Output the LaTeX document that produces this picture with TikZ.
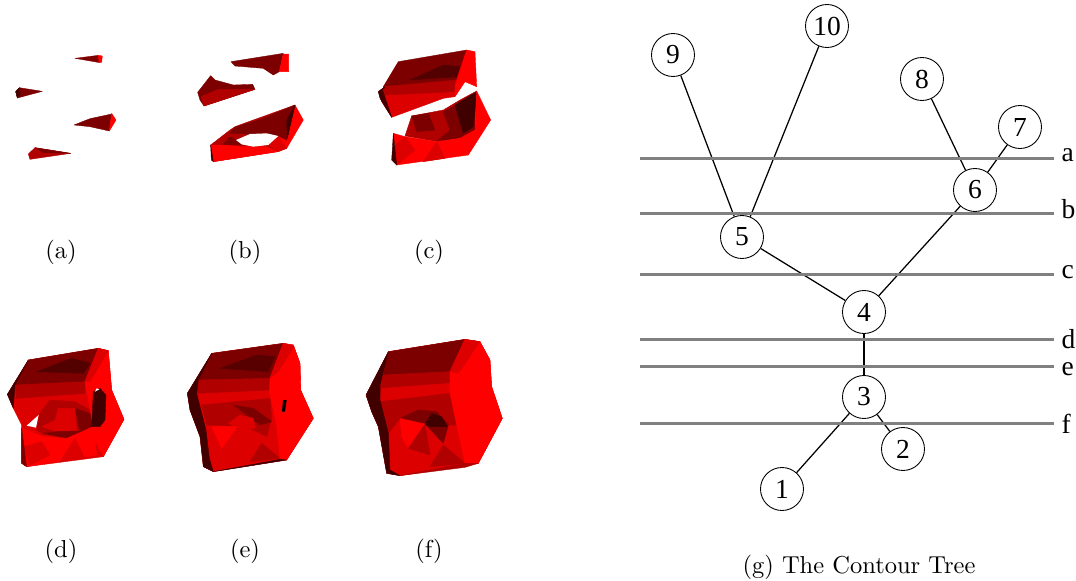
\documentclass[tikz,border=0pt]{standalone}
\usepackage{fontspec}
\newfontfamily\treefont{Liberation Serif}
\usetikzlibrary{positioning}
\definecolor{rdA}{HTML}{FF0000}
\definecolor{rdB}{HTML}{DC0000}
\definecolor{rdC}{HTML}{B00000}
\definecolor{rdD}{HTML}{7C0000}
\definecolor{rdE}{HTML}{400000}
\definecolor{levc}{HTML}{808080}
\begin{document}
\begin{tikzpicture}[x=0.4pt, y=-0.4pt,
          tn/.style={circle, draw=black, fill=white, line width=0.35pt, minimum size=17.2pt, inner sep=0pt, font=\treefont\fontsize{11}{12}\selectfont},
          ed/.style={line width=0.5pt, black},
          lev/.style={line width=1pt, levc},
          lab/.style={anchor=base west, inner sep=0pt, font=\treefont\fontsize{11}{12}\selectfont},
          capt/.style={inner sep=0pt, font=\fontsize{9.8}{12}\selectfont},
          fc/.style={fill=#1, draw=#1, line width=0.15pt, line join=round}]
        \useasboundingbox (0,0) rectangle (1076,581);
        % panels a and b
        \begin{scope}[shift={(0,30)}, scale=1/3]
          \fill[fc=rdD] (225,85) -- (295,76) -- (300,98) -- cycle;
          \fill[fc=rdA] (295,76) -- (307,78) -- (305,97) -- (297,98) -- cycle;
          \fill[fc=rdD] (47,185) -- (58,173) -- (127,184) -- (52,204) -- cycle;
          \fill[fc=rdE] (47,185) -- (58,173) -- (60,195) -- (52,204) -- cycle;
          \fill[fc=rdD] (222,285) -- (270,266) -- (335,252) -- (328,303) -- (270,290) -- cycle;
          \fill[fc=rdA] (335,250) -- (348,270) -- (328,303) -- cycle;
          \fill[fc=rdC] (85,372) -- (105,353) -- (212,370) -- (90,388) -- cycle;
          \fill[fc=rdD] (105,353) -- (212,370) -- (130,368) -- cycle;
          % b
          \fill[fc=rdD] (693,95) -- (850,70) -- (838,125) -- (820,135) -- (790,115) -- (705,108) -- cycle;
          \fill[fc=rdA] (850,72) -- (866,72) -- (866,125) -- (838,125) -- cycle;
          \fill[fc=rdD] (593,187) -- (632,137) -- (645,150) -- (700,165) -- (758,163) -- (765,178) -- (612,228) -- (600,210) -- cycle;
          \fill[fc=rdC] (603,200) -- (655,178) -- (765,178) -- (612,228) -- cycle;
          \fill[fc=rdC] (632,345) -- (690,300) -- (705,290) -- (760,270) -- (885,225) -- (860,355) -- (830,365) -- (640,395) -- cycle;
          \fill[fc=rdA] (885,225) -- (910,270) -- (860,355) -- (835,320) -- cycle;
          \fill[fc=rdD] (705,292) -- (790,265) -- (780,310) -- (750,312) -- (690,310) -- cycle;
          \fill[fc=rdD] (790,265) -- (885,225) -- (860,330) -- (835,318) -- (780,310) -- cycle;
          \fill[fc=rdE] (885,225) -- (862,325) -- (860,270) -- cycle;
          \fill[fc=rdD] (668,345) -- (690,320) -- (708,330) -- (725,343) -- cycle;
          \fill[fc=rdA] (632,345) -- (668,345) -- (725,350) -- (800,350) -- (835,365) -- (640,395) -- cycle;
          \fill[fc=rdB] (805,345) -- (835,320) -- (860,355) -- (835,365) -- cycle;
          \fill[fc=rdE] (632,345) -- (640,395) -- (634,390) -- cycle;
          \fill[white] (708,330) -- (750,312) -- (800,310) -- (835,318) -- (805,345) -- (760,350) -- (725,343) -- cycle;
        \end{scope}
        % panel c
        \begin{scope}[shift={(360,30)}, scale=1/3]
          \fill[fc=rdD] (115,95) -- (320,60) -- (290,170) -- (70,170) -- cycle;
          \fill[fc=rdE!70!rdD] (150,150) -- (250,105) -- (300,110) -- (290,140) -- cycle;
          \fill[fc=rdB] (55,185) -- (75,170) -- (285,170) -- (285,200) -- (250,205) -- (95,262) -- (65,215) -- cycle;
          \fill[fc=rdC] (70,170) -- (290,150) -- (285,185) -- (75,195) -- cycle;
          \fill[fc=rdE] (55,185) -- (75,170) -- (68,180) -- (95,262) -- (60,205) -- cycle;
          \fill[fc=rdA] (320,60) -- (345,65) -- (350,170) -- (315,155) -- (285,200) -- (285,165) -- cycle;
          \fill[fc=rdC] (135,318) -- (155,258) -- (250,240) -- (300,210) -- (350,183) -- (345,300) -- (300,325) -- (230,335) -- cycle;
          \fill[fc=rdD] (155,258) -- (205,250) -- (225,300) -- (170,305) -- cycle;
          \fill[fc=rdD] (250,245) -- (310,215) -- (345,190) -- (345,300) -- (305,322) -- (230,335) -- (270,300) -- cycle;
          \fill[fc=rdE] (285,225) -- (350,185) -- (340,290) -- (310,310) -- cycle;
          \fill[fc=rdA] (350,183) -- (392,270) -- (325,375) -- (300,325) -- (345,300) -- cycle;
          \fill[fc=rdA] (100,310) -- (135,320) -- (230,335) -- (300,325) -- (325,375) -- (110,405) -- cycle;
          \fill[fc=rdB] (135,320) -- (165,360) -- (110,405) -- (100,350) -- cycle;
          \fill[fc=rdB] (230,335) -- (255,385) -- (190,395) -- cycle;
          \fill[fc=rdE] (100,310) -- (110,405) -- (95,390) -- cycle;
        \end{scope}
        % panel d
        \begin{scope}[shift={(0,330)}, scale=1/3]
          \fill[fc=rdB] (22,193) -- (85,90) -- (295,55) -- (325,62) -- (335,180) -- (372,268) -- (310,380) -- (80,410) -- (65,400) -- (65,285) -- (40,235) -- cycle;
          \fill[fc=rdD] (85,90) -- (295,55) -- (255,155) -- (45,165) -- cycle;
          \fill[fc=rdE!70!rdD] (110,125) -- (215,85) -- (270,100) -- (250,130) -- cycle;
          \fill[fc=rdC] (45,165) -- (255,155) -- (255,190) -- (50,205) -- cycle;
          \fill[fc=rdC] (110,300) -- (118,252) -- (150,210) -- (225,215) -- (270,240) -- (280,290) -- (200,325) -- (130,312) -- cycle;
          \fill[fc=rdB] (125,290) -- (165,270) -- (175,235) -- (225,235) -- (230,300) -- (170,305) -- cycle;
          \fill[fc=rdD] (225,235) -- (270,250) -- (278,285) -- (240,305) -- cycle;
          \fill[fc=rdD] (130,310) -- (170,305) -- (235,305) -- (275,288) -- (205,325) -- cycle;
          \fill[fc=rdE] (22,193) -- (85,90) -- (45,165) -- (40,235) -- cycle;
          \fill[fc=rdA] (295,55) -- (325,62) -- (335,180) -- (372,268) -- (310,380) -- (285,330) -- (280,290) -- (255,155) -- cycle;
          \fill[fc=rdB] (295,55) -- (325,62) -- (270,155) -- (255,155) -- cycle;
          \fill[fc=rdA] (65,295) -- (130,320) -- (200,325) -- (280,290) -- (290,375) -- (80,410) -- cycle;
          \fill[fc=rdB] (125,335) -- (150,375) -- (90,405) -- (70,350) -- cycle;
          \fill[fc=rdB] (225,325) -- (255,385) -- (180,395) -- cycle;
          \fill[fc=rdD] (65,295) -- (80,410) -- (65,400) -- cycle;
          \fill[fc=rdE] (280,185) -- (300,175) -- (318,195) -- (315,270) -- (300,290) -- (275,290) -- cycle;
          \fill[white] (80,287) -- (116,255) -- (108,293) -- cycle;
          \fill[white] (285,185) -- (290,175) -- (298,178) -- cycle;
        \end{scope}
        % panel e
        \begin{scope}[shift={(170,330)}, scale=1/3]
          \fill[fc=rdB] (52,190) -- (125,70) -- (340,40) -- (370,45) -- (390,100) -- (392,180) -- (430,265) -- (350,390) -- (130,425) -- (100,410) -- (90,320) -- (60,240) -- cycle;
          \fill[fc=rdD] (125,70) -- (340,40) -- (300,145) -- (85,150) -- cycle;
          \fill[fc=rdE!60!rdD] (150,115) -- (260,75) -- (315,80) -- (295,125) -- cycle;
          \fill[fc=rdC] (85,150) -- (300,145) -- (300,180) -- (80,190) -- cycle;
          \fill[fc=rdC] (95,225) -- (300,205) -- (305,265) -- (290,320) -- (230,290) -- (110,285) -- cycle;
          \fill[fc=rdD] (190,225) -- (250,235) -- (305,275) -- (270,285) -- cycle;
          \fill[fc=rdA] (125,290) -- (175,290) -- (205,285) -- (155,355) -- cycle;
          \fill[fc=rdB] (175,280) -- (210,255) -- (250,265) -- (255,295) -- (210,295) -- cycle;
          \fill[fc=rdC] (275,340) -- (330,385) -- (240,395) -- cycle;
          \fill[fc=rdE] (52,190) -- (125,70) -- (85,150) -- (80,190) -- (108,300) -- (118,385) -- (130,425) -- (100,410) -- (90,320) -- (60,240) -- cycle;
          \fill[fc=rdA] (340,40) -- (370,45) -- (390,100) -- (392,180) -- (430,265) -- (350,390) -- (330,385) -- (320,285) -- (298,185) -- (300,145) -- cycle;
          \fill[fc=rdB] (340,40) -- (372,50) -- (325,125) -- (300,145) -- cycle;
          \fill[fc=rdE] (130,425) -- (330,388) -- (350,390) -- (130,425) -- cycle;
          \fill[black] (339,210) -- (350,210) -- (345,245) -- (336,245) -- cycle;
        \end{scope}
        % panel f
        \begin{scope}[shift={(350,330)}, scale=1/3]
          \fill[fc=rdB] (48,195) -- (115,65) -- (345,28) -- (390,35) -- (420,90) -- (425,170) -- (457,265) -- (385,400) -- (150,437) -- (110,430) -- (85,290) -- (65,245) -- cycle;
          \fill[fc=rdD] (115,65) -- (345,28) -- (300,125) -- (100,135) -- cycle;
          \fill[fc=rdC] (100,135) -- (300,125) -- (300,190) -- (90,215) -- (90,165) -- cycle;
          \fill[fc=rdB] (95,175) -- (300,160) -- (300,190) -- (90,215) -- cycle;
          \fill[fc=rdC] (90,215) -- (300,190) -- (320,285) -- (295,285) -- (205,240) -- (150,265) -- (115,310) -- cycle;
          \fill[fc=rdD] (150,265) -- (205,240) -- (260,245) -- (295,285) -- (280,340) -- (225,282) -- cycle;
          \fill[fc=rdE] (225,282) -- (245,250) -- (275,260) -- (292,290) -- (240,290) -- cycle;
          \fill[fc=rdA] (150,265) -- (225,282) -- (175,355) -- (155,320) -- cycle;
          \fill[fc=rdC] (225,282) -- (240,375) -- (175,355) -- cycle;
          \fill[fc=rdC] (280,345) -- (345,400) -- (240,410) -- cycle;
          \fill[fc=rdE] (48,195) -- (115,65) -- (90,165) -- (90,210) -- (115,310) -- (120,420) -- (150,437) -- (110,430) -- (85,290) -- (65,245) -- cycle;
          \fill[fc=rdA] (345,28) -- (390,35) -- (420,90) -- (425,170) -- (457,265) -- (385,400) -- (345,400) -- (320,285) -- (300,190) -- (300,125) -- cycle;
          \fill[fc=rdB] (345,28) -- (390,35) -- (325,130) -- (300,125) -- cycle;
          \fill[fc=rdC] (150,437) -- (345,400) -- (385,400) -- (345,412) -- cycle;
        \end{scope}
        \node[capt] (capa) at (61,252) {(a)};
        \node[capt] (capb) at (245,252) {(b)};
        \node[capt] (capc) at (429,252) {(c)};
        \node[capt] (capd) at (61,551) {(d)};
        \node[capt] (cape) at (245,551) {(e)};
        \node[capt] (capf) at (429,551) {(f)};
        \node[capt] (capg) at (859,567) {(g) The Contour Tree};
        % tree
        \foreach \n/\x/\y in {1/782/489, 2/903/449, 3/864/397, 4/864/312, 5/742/237, 6/975/190, 7/1020/127, 8/922/79, 9/673/55, 10/827/26}{ \node[tn] (n\n) at (\x, \y) {\n}; }
        \foreach \a/\b in {9/5, 10/5, 8/6, 7/6, 6/4, 5/4, 4/3, 3/2, 3/1}{ \draw[ed] (n\a) -- (n\b); }
        \foreach \l/\y/\t in {a/158.5/161, b/213.5/218, c/274.5/278, d/339.5/348, e/366.5/375, f/423.5/433}{
          \coordinate (s\l) at (640, \y);
          \node[lab] (\l) at (1061, \t) {\l};
          \draw[lev] (s\l) -- ([xshift=-2.8pt]\l.base west |- s\l);
        }
      \end{tikzpicture}
\end{document}
